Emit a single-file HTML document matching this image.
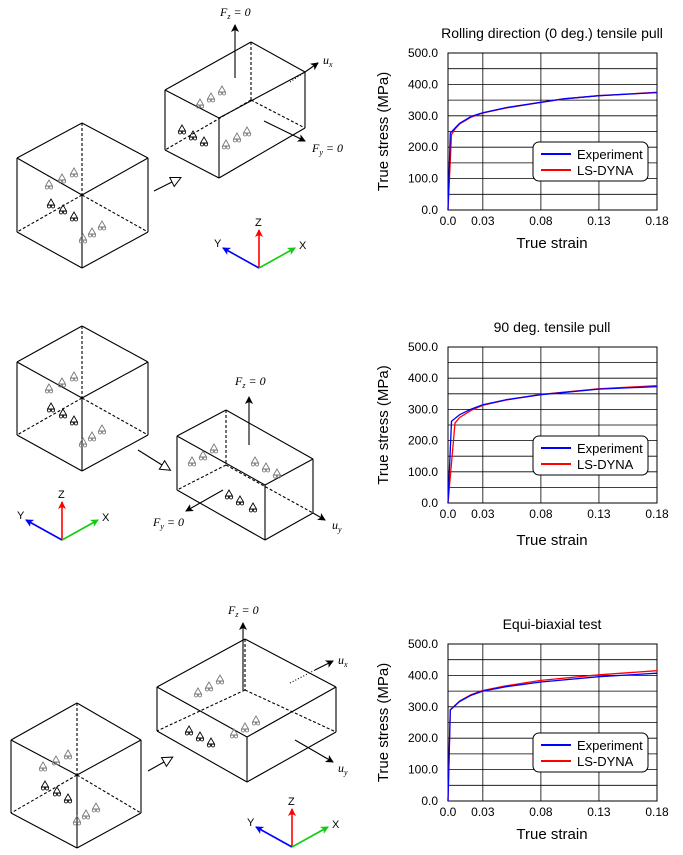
<!DOCTYPE html>
<html><head><meta charset="utf-8"><style>
html,body{margin:0;padding:0;background:#fff}
svg{display:block}
text{font-family:"Liberation Sans",sans-serif}
.ser{font-family:"Liberation Serif",serif;font-style:italic}
</style></head><body>
<svg id="fig" width="683" height="855" viewBox="0 0 683 855" xmlns="http://www.w3.org/2000/svg">
<defs>
<marker id="ah" markerWidth="8" markerHeight="8" refX="7" refY="4" orient="auto" markerUnits="userSpaceOnUse"><path d="M0,0 L8,4 L0,8 L2,4 Z" fill="#000"/></marker>
<marker id="ahR" markerWidth="8" markerHeight="8" refX="7" refY="4" orient="auto" markerUnits="userSpaceOnUse"><path d="M0,0 L8,4 L0,8 L2,4 Z" fill="red"/></marker>
<marker id="ahG" markerWidth="8" markerHeight="8" refX="7" refY="4" orient="auto" markerUnits="userSpaceOnUse"><path d="M0,0 L8,4 L0,8 L2,4 Z" fill="#1c1"/></marker>
<marker id="ahB" markerWidth="8" markerHeight="8" refX="7" refY="4" orient="auto" markerUnits="userSpaceOnUse"><path d="M0,0 L8,4 L0,8 L2,4 Z" fill="#00f"/></marker>
<marker id="tri" markerWidth="12" markerHeight="12" refX="1" refY="6" orient="auto" markerUnits="userSpaceOnUse"><path d="M1,1 L11,6 L1,11 Z" fill="#fff" stroke="#000" stroke-width="1"/></marker>
</defs>
<g id="diagrams"></g>
<g id="charts"></g>
</svg>
<script>
// ---- Chart data ----
const xTicks = [0.0, 0.03, 0.08, 0.13, 0.18];
const xTickLabels = ["0.0", "0.03", "0.08", "0.13", "0.18"];
const yTicks = [0, 100, 200, 300, 400, 500];
const yTickLabels = ["0.0", "100.0", "200.0", "300.0", "400.0", "500.0"];
const chartTitles = ["Rolling direction (0 deg.) tensile pull", "90 deg. tensile pull", "Equi-biaxial test"];
const seriesNames = ["Experiment", "LS-DYNA"];
const strain1Exp = [0, 0.002, 0.005, 0.01, 0.02, 0.03, 0.05, 0.08, 0.10, 0.13, 0.18];
const stress1Exp = [0, 245, 257, 276, 298, 310, 326, 343, 354, 364, 374];
const strain1Dyn = [0, 0.003, 0.006, 0.01, 0.02, 0.03, 0.05, 0.08, 0.10, 0.13, 0.18];
const stress1Dyn = [0, 240, 258, 274, 296, 309, 325, 343, 354, 364, 375];
const strain2Exp = [0, 0.003, 0.01, 0.02, 0.03, 0.05, 0.08, 0.13, 0.18];
const stress2Exp = [0, 262, 283, 301, 315, 331, 347, 365, 373];
const strain2Dyn = [0, 0.006, 0.01, 0.02, 0.03, 0.05, 0.08, 0.13, 0.18];
const stress2Dyn = [0, 256, 274, 297, 313, 330, 348, 366, 376];
const strain3Exp = [0, 0.002, 0.005, 0.01, 0.02, 0.03, 0.05, 0.08, 0.13, 0.18];
const stress3Exp = [0, 290, 300, 317, 337, 350, 364, 379, 396, 407];
const strain3Dyn = [0, 0.002, 0.005, 0.01, 0.02, 0.03, 0.05, 0.08, 0.13, 0.18];
const stress3Dyn = [0, 290, 301, 318, 339, 352, 367, 384, 402, 415];

const NS = "http://www.w3.org/2000/svg";
function mk(tag, attrs, parent, txt) {
  const e = document.createElementNS(NS, tag);
  for (const k in attrs) e.setAttribute(k, attrs[k]);
  if (txt !== undefined) e.textContent = txt;
  parent.appendChild(e);
  return e;
}

const charts = document.getElementById('charts');
const layouts = [{top:53,bot:210},{top:347,bot:503},{top:644,bot:801}];
const data = [[strain1Exp,stress1Exp,strain1Dyn,stress1Dyn],[strain2Exp,stress2Exp,strain2Dyn,stress2Dyn],[strain3Exp,stress3Exp,strain3Dyn,stress3Dyn]];
const L = 448, R = 657;
layouts.forEach((ly, ci) => {
  const g = mk('g', {}, charts);
  
  
  const xs = v => L + (v - 0) / 0.18 * (R - L);
  const ys = v => ly.bot - v / 500 * (ly.bot - ly.top);
  const t = mk('text', {x: 552, y: ly.top - 15, 'text-anchor': 'middle', 'font-size': 14}, g, chartTitles[ci]);
  
  
  // grid
  for (let v = 50; v < 500; v += 50) {
    const l = mk('line', {x1: L, x2: R, y1: ys(v), y2: ys(v), stroke: '#000', 'stroke-width': 0.8}, g);
    
    
  }
  xTicks.forEach((v, i) => {
    if (i > 0 && i < xTicks.length - 1) {
      const l = mk('line', {x1: xs(v), x2: xs(v), y1: ly.top, y2: ly.bot, stroke: '#000', 'stroke-width': 0.8}, g);
      
      
    }
    const tl = mk('text', {x: xs(v), y: ly.bot + 15, 'text-anchor': 'middle', 'font-size': 12}, g, xTickLabels[i]);
    
    
  });
  yTicks.forEach((v, i) => {
    const tl = mk('text', {x: 438, y: ys(v) + 4, 'text-anchor': 'end', 'font-size': 12}, g, yTickLabels[i]);
    
    
  });
  const fr = mk('rect', {x: L, y: ly.top, width: R - L, height: ly.bot - ly.top, fill: 'none', stroke: '#000', 'stroke-width': 1}, g);
  
  
  const xt = mk('text', {x: 552, y: ly.bot + (ci === 1 ? 42 : 38), 'text-anchor': 'middle', 'font-size': 15}, g, 'True strain');
  
  
  const cy = (ly.top + ly.bot) / 2;
  const yt = mk('text', {x: 0, y: 0, transform: 'translate(388,' + cy + ') rotate(-90)', 'text-anchor': 'middle', 'font-size': 15}, g, 'True stress (MPa)');
  
  
  const d = data[ci];
  [[d[2], d[3], 'red', 'ls-dyna-line'], [d[0], d[1], 'blue', 'experiment-line']].forEach(s => {
    const pts = s[0].map((x, i) => xs(x).toFixed(1) + ',' + ys(s[1][i]).toFixed(1)).join(' ');
    const pl = mk('polyline', {points: pts, fill: 'none', stroke: s[2], 'stroke-width': 1.3, 'stroke-linejoin': 'round'}, g);
    
    
  });
  // legend
  const lg = mk('g', {}, g);
  
  
  const ly0 = ly.top + (ci === 2 ? 89 : 89);
  mk('rect', {x: 533, y: ly0, width: 115, height: 39, rx: 6, fill: '#fff', stroke: '#000', 'stroke-width': 1}, lg);
  ['blue', 'red'].forEach((c, i) => {
    const e = mk('g', {}, lg);
    
    
    mk('line', {x1: 541, x2: 571, y1: ly0 + 12 + i * 16, y2: ly0 + 12 + i * 16, stroke: c, 'stroke-width': 2}, e);
    mk('text', {x: 577, y: ly0 + 17 + i * 16, 'font-size': 13}, e, seriesNames[i]);
  });
});

// ---- Diagrams ----
const dg = document.getElementById('diagrams');
function line(g, p, q, dash, name, extra) {
  const a = {x1: p[0], y1: p[1], x2: q[0], y2: q[1], stroke: '#000', 'stroke-width': 1.1};
  if (dash) a['stroke-dasharray'] = dash;
  if (extra) for (const k in extra) a[k] = extra[k];
  const l = mk('line', a, g);
  
  
  return l;
}
function sym(g, x, y, dark) {
  const c = dark ? '#000' : '#777';
  const s = mk('g', {}, g);
  
  
  mk('path', {d: `M${x},${y - 4} L${x - 3.5},${y + 2} L${x + 3.5},${y + 2} Z`, fill: 'none', stroke: c, 'stroke-width': 0.9}, s);
  mk('circle', {cx: x - 2, cy: y + 3.5, r: 1.5, fill: 'none', stroke: c, 'stroke-width': 0.8}, s);
  mk('circle', {cx: x + 2, cy: y + 3.5, r: 1.5, fill: 'none', stroke: c, 'stroke-width': 0.8}, s);
}
function cube(g, t, l, r, c, bl, bc, br) {
  line(g, l, t); line(g, t, r); line(g, l, c); line(g, c, r);
  line(g, l, bl); line(g, r, br); line(g, c, bc); line(g, bl, bc); line(g, bc, br);
  line(g, t, c, '3,2'); line(g, c, [bl[0] + 0, bl[1]], '3,2'); line(g, c, br, '3,2');
  const ox = l[0], oy = l[1];
  [[32,26,0],[45,20,0],[57,14,0],[34,45,1],[46,51,1],[57,58,1],[66,80,0],[75,74,0],[85,67,0]].forEach(p => sym(g, ox + p[0], oy + p[1], p[2]));
}
function triad(g, o) {
  const t = mk('g', {}, g);
  
  
  mk('line', {x1: o[0], y1: o[1], x2: o[0], y2: o[1] - 38, stroke: 'red', 'stroke-width': 1.6, 'marker-end': 'url(#ahR)'}, t);
  mk('line', {x1: o[0], y1: o[1], x2: o[0] - 36, y2: o[1] - 20, stroke: 'blue', 'stroke-width': 1.6, 'marker-end': 'url(#ahB)'}, t);
  mk('line', {x1: o[0], y1: o[1], x2: o[0] + 36, y2: o[1] - 20, stroke: '#1c1', 'stroke-width': 1.6, 'marker-end': 'url(#ahG)'}, t);
  mk('text', {x: o[0] - 4, y: o[1] - 42, 'font-size': 11, 'font-family': 'Liberation Serif'}, t, 'Z');
  mk('text', {x: o[0] - 45, y: o[1] - 21, 'font-size': 11, 'font-family': 'Liberation Serif'}, t, 'Y');
  mk('text', {x: o[0] + 40, y: o[1] - 19, 'font-size': 11, 'font-family': 'Liberation Serif'}, t, 'X');
}
function label(g, x, y, main, sub, rest, name) {
  const t = mk('text', {x: x, y: y, 'font-size': 12, class: 'ser'}, g);
  
  
  mk('tspan', {}, t, main);
  mk('tspan', {'font-size': 8, dy: 3}, t, sub);
  if (rest) mk('tspan', {dy: -3}, t, rest);
}
function box(g, tl, bk, rt, fr, bl, bf, br, hid) {
  line(g, tl, bk); line(g, bk, rt); line(g, tl, fr); line(g, fr, rt);
  line(g, tl, bl); line(g, fr, bf); line(g, rt, br); line(g, bl, bf); line(g, bf, br);
  line(g, bk, hid, '3,2'); line(g, hid, bl, '3,2'); line(g, hid, br, '3,2');
}
function arrowOpen(g, p, q) {
  const a = line(g, p, q, null, 'transition-arrow', {'marker-end': 'url(#tri)'});
}
// diagram 1
let g1 = mk('g', {}, dg);  
cube(g1, [82,123], [17,158], [148,158], [82,195], [17,232], [82,268], [148,232]);
arrowOpen(g1, [154,191], [172,182]);
box(g1, [165,90], [251,42], [305,72], [219,118], [165,150], [219,178], [305,128], [251,100]);
[[200,103,0],[211,97,0],[222,90,0],[182,129,1],[193,135,1],[204,141,1],[226,144,0],[237,137,0],[247,131,0]].forEach(p => sym(g1, p[0], p[1], p[2]));
line(g1, [235,78], [235,25], null, 'force-arrow', {'marker-end': 'url(#ah)'});
label(g1, 220, 16, 'F', 'z', ' = 0', 'fz-label');
line(g1, [290,82], [305,72], '1,2', 'ux-hidden');
line(g1, [305,72], [318,63], null, 'ux-arrow', {'marker-end': 'url(#ah)'});
label(g1, 323, 64, 'u', 'x', '', 'ux-label');
line(g1, [264,121], [305,141], null, 'fy-arrow', {'marker-end': 'url(#ah)'});
label(g1, 312, 152, 'F', 'y', ' = 0', 'fy-label');
triad(g1, [259,268]);
// diagram 2
let g2 = mk('g', {}, dg);  
cube(g2, [82,326], [17,362], [148,362], [82,398], [17,435], [82,471], [148,435]);
arrowOpen(g2, [138,450], [162,465]);
box(g2, [177,436], [226,410], [313,459], [265,485], [177,490], [265,540], [313,513], [226,465]);
[[192,461,0],[203,455,0],[214,448,0],[255,461,0],[266,467,0],[277,473,0],[229,494,1],[240,500,1],[253,507,1]].forEach(p => sym(g2, p[0], p[1], p[2]));
line(g2, [313,513], [325,520], null, 'uy-arrow', {'marker-end': 'url(#ah)'});
label(g2, 332, 529, 'u', 'y', '', 'uy-label');
line(g2, [249,445], [249,397], null, 'force-arrow', {'marker-end': 'url(#ah)'});
label(g2, 235, 385, 'F', 'z', ' = 0', 'fz-label');
line(g2, [223,490], [186,511], null, 'fy-arrow', {'marker-end': 'url(#ah)'});
label(g2, 153, 526, 'F', 'y', ' = 0', 'fy-label');
triad(g2, [62,540]);
// diagram 3
let g3 = mk('g', {}, dg);  
cube(g3, [77,703], [11,740], [141,740], [77,775], [11,813], [77,848], [141,813]);
arrowOpen(g3, [148,771], [164,762]);
box(g3, [157,687], [245,639], [336,687], [247,737], [157,731], [247,782], [336,732], [245,690]);
[[198,692,0],[209,686,0],[220,679,0],[189,730,1],[200,736,1],[211,742,1],[234,733,0],[245,727,0],[256,720,0]].forEach(p => sym(g3, p[0], p[1], p[2]));
line(g3, [243,690], [243,623], null, 'force-arrow', {'marker-end': 'url(#ah)'});
label(g3, 228, 614, 'F', 'z', ' = 0', 'fz-label');
line(g3, [290,683], [315,670], '1,2', 'ux-hidden');
line(g3, [315,670], [333,661], null, 'ux-arrow', {'marker-end': 'url(#ah)'});
label(g3, 338, 664, 'u', 'x', '', 'ux-label');
line(g3, [295,740], [333,762], null, 'uy-arrow', {'marker-end': 'url(#ah)'});
label(g3, 338, 772, 'u', 'y', '', 'uy-label');
triad(g3, [292,847]);
</script>
</body></html>
